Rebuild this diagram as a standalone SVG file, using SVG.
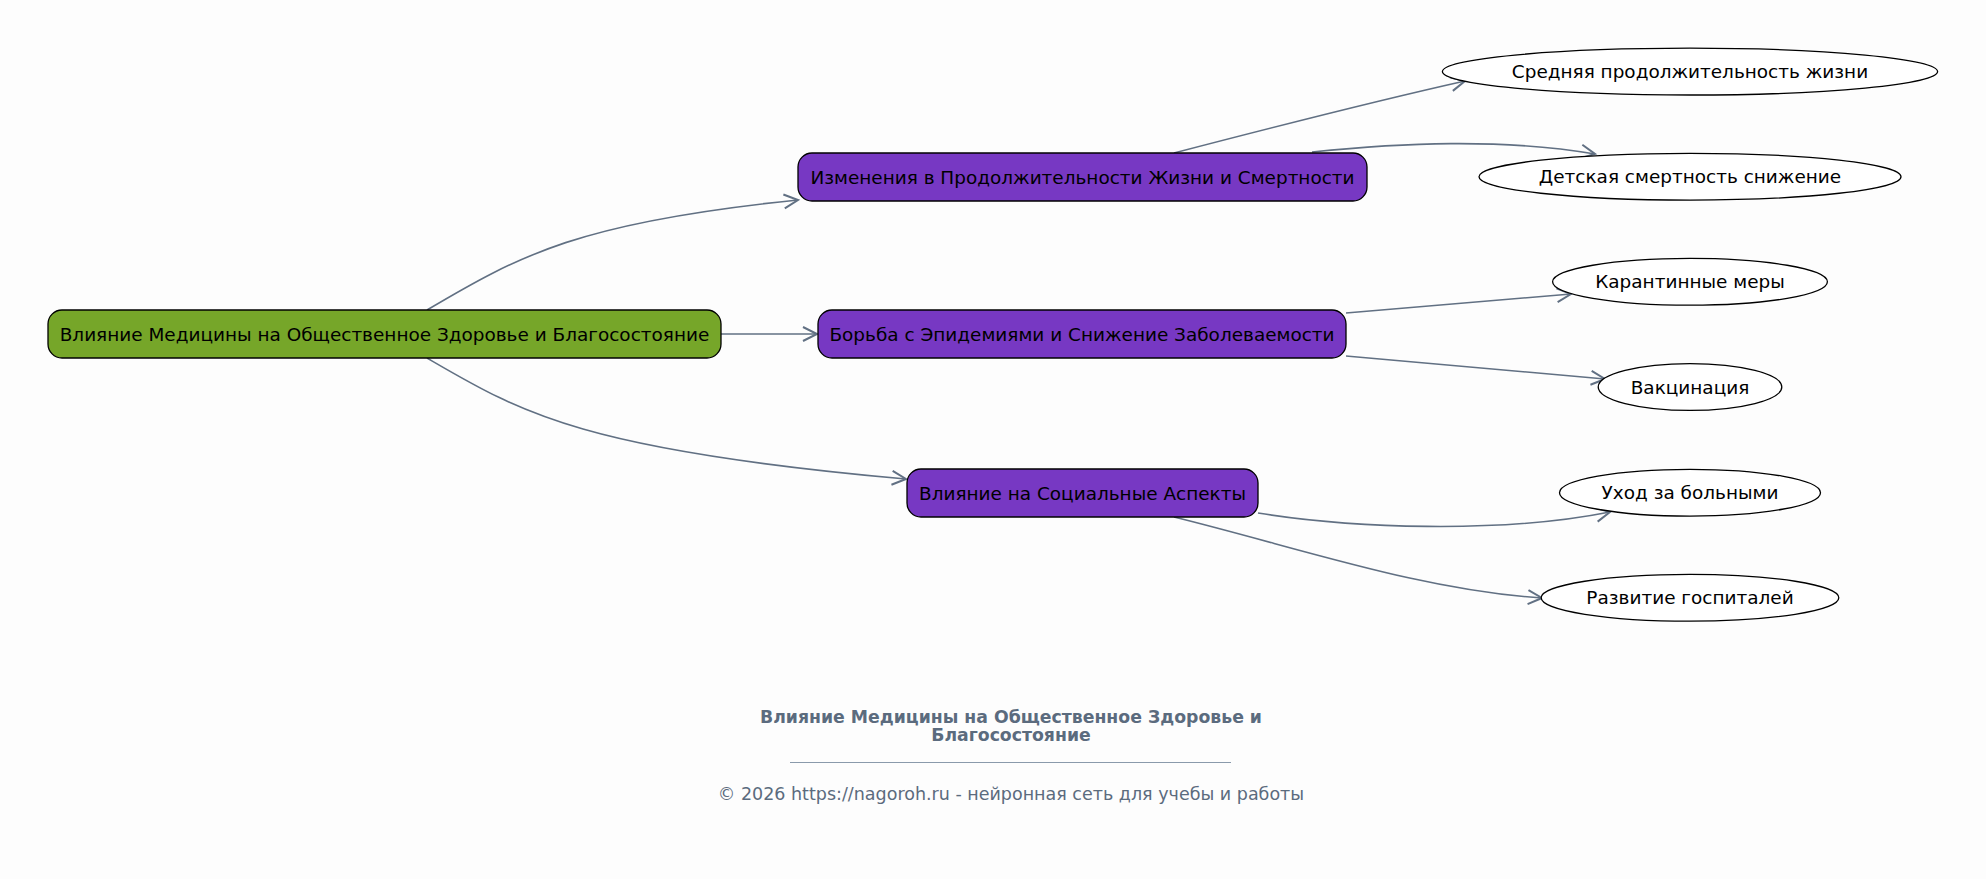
<svg xmlns="http://www.w3.org/2000/svg" width="1986" height="879" viewBox="0 0 1986 879">
<style>
.node text{font-family:"DejaVu Sans","Noto Sans",sans-serif;font-size:18.45px;fill:#000;text-anchor:middle}
.box{stroke:#000;stroke-width:1.3}
.root{fill:#76a629}
.mid{fill:#7738c3}
.leaf{fill:#fff;stroke:#000;stroke-width:1.3}
.edge{fill:none;stroke:#617083;stroke-width:1.6;marker-end:url(#arr)}
.ft{font-family:"DejaVu Sans","Noto Sans",sans-serif;fill:#5b6b7e;text-anchor:middle}
</style>
<defs>
<marker id="arr" markerUnits="userSpaceOnUse" markerWidth="20" markerHeight="20" viewBox="-16 -10 18 20" refX="0" refY="0" orient="auto">
<path d="M-14,-7 L0,0 L-14,7" fill="none" stroke="#617083" stroke-width="2"/>
</marker>
</defs>
<rect width="1986" height="879" fill="#fdfdfd"/>
<g id="connectors">
<path class="edge" d="M427,310 C520,255 580,222 798,200"/>
<path class="edge" d="M721,334 L817,334"/>
<path class="edge" d="M427,358 C520,412 580,450 906,479"/>
<path class="edge" d="M1174,153 C1270,128 1380,100 1465,81"/>
<path class="edge" d="M1312,152 C1400,143 1500,138 1595,154"/>
<path class="edge" d="M1346,313 L1571,294"/>
<path class="edge" d="M1346,356 L1605,379"/>
<path class="edge" d="M1258,513 C1350,528 1500,534 1610,512"/>
<path class="edge" d="M1174,517 C1300,548 1420,590 1542,598"/>
</g>
<g id="root" class="node">
<rect class="box root" x="48" y="310" width="673" height="48" rx="14"/>
<text x="384.5" y="340.5">Влияние Медицины на Общественное Здоровье и Благосостояние</text>
</g>
<g id="n1" class="node">
<rect class="box mid" x="798" y="153" width="569" height="48" rx="14"/>
<text x="1082.5" y="183.5">Изменения в Продолжительности Жизни и Смертности</text>
</g>
<g id="n2" class="node">
<rect class="box mid" x="818" y="310" width="528" height="48" rx="14"/>
<text x="1082" y="340.5">Борьба с Эпидемиями и Снижение Заболеваемости</text>
</g>
<g id="n3" class="node">
<rect class="box mid" x="907" y="469" width="351" height="48" rx="14"/>
<text x="1082.5" y="499.5">Влияние на Социальные Аспекты</text>
</g>
<g id="e1" class="node">
<ellipse class="leaf" cx="1690" cy="71.6" rx="247.6" ry="23.4"/>
<text x="1690" y="78">Средняя продолжительность жизни</text>
</g>
<g id="e2" class="node">
<ellipse class="leaf" cx="1690" cy="176.7" rx="211" ry="23.4"/>
<text x="1690" y="183">Детская смертность снижение</text>
</g>
<g id="e3" class="node">
<ellipse class="leaf" cx="1690" cy="281.8" rx="137.4" ry="23.4"/>
<text x="1690" y="288">Карантинные меры</text>
</g>
<g id="e4" class="node">
<ellipse class="leaf" cx="1690" cy="387" rx="91.8" ry="23.4"/>
<text x="1690" y="393.5">Вакцинация</text>
</g>
<g id="e5" class="node">
<ellipse class="leaf" cx="1690" cy="492.7" rx="130.5" ry="23.4"/>
<text x="1690" y="499">Уход за больными</text>
</g>
<g id="e6" class="node">
<ellipse class="leaf" cx="1690" cy="597.8" rx="148.8" ry="23.4"/>
<text x="1690" y="604">Развитие госпиталей</text>
</g>
<g id="footer">
<text class="ft" x="1011" y="723" font-size="17.3" font-weight="bold">Влияние Медицины на Общественное Здоровье и</text>
<text class="ft" x="1011" y="741" font-size="17.3" font-weight="bold">Благосостояние</text>
<line x1="790" y1="762.5" x2="1231" y2="762.5" stroke="#8a9aab" stroke-width="1"/>
<text class="ft" x="1011" y="800" font-size="17.5">© 2026 https://nagoroh.ru - нейронная сеть для учебы и работы</text>
</g>
</svg>
